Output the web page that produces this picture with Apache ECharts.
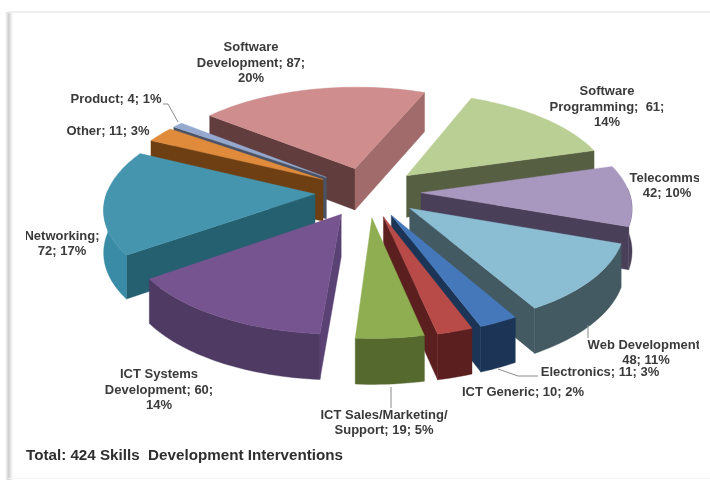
<!DOCTYPE html>
<html>
<head>
<meta charset="utf-8">
<title>Skills Development Interventions</title>
<style>
  html, body { margin: 0; padding: 0; background: #ffffff; }
  #chart { width: 710px; height: 480px; }
</style>
<script src="https://cdn.jsdelivr.net/npm/echarts@6/dist/echarts.min.js"></script>
</head>
<body>
<div id="chart"></div>
<script>
// Intervention counts by skill area, clockwise from the top of the pie.
const categories = [
  'Software Development', 'Software Programming', 'Telecomms', 'Web Development',
  'Electronics', 'ICT Generic', 'ICT Sales/Marketing/Support', 'ICT Systems Development',
  'Networking', 'Other', 'Product'
];
const counts = [87, 61, 42, 48, 11, 10, 19, 60, 72, 11, 4];
const shares = [20, 14, 10, 11, 3, 2, 5, 14, 17, 3, 1];
const totalCaption = 'Total: 424 Skills  Development Interventions';

// Face colours for each slice: top, counter-clockwise wall, clockwise wall, rim.
const topColors = ['#cf8d8e', '#bacf94', '#a898c0', '#8bbdd3', '#4478ba', '#b84b48', '#8fae52', '#76548f', '#4595ae', '#e08b3b', '#95a9cf'];
const startWallColors = ['#613d3d', '#565f42', '#4a3f58', '#435a63', '#1c3557', '#5a1f1e', '#55692f', '#5b4274', '#24606f', '#6e3f12', '#4a5366'];
const endWallColors = ['#a16b6b', '#565f42', '#4a3f58', '#435a63', '#1c3557', '#5a1f1e', '#55692f', '#4f3a63', '#24606f', '#6e3f12', '#4a5366'];
const rimColors = ['#a16b6b', '#565f42', '#4a3f58', '#435a63', '#1c3557', '#5a1f1e', '#55692f', '#4f3a63', '#3a8ba5', '#6e3f12', '#4a5366'];

// Projection of the tilted, exploded pie onto the page.
const view = {
  cx: 368, cy: 192, radius: 208, squash: 0.47, perspective: 0.13,
  explode: 53, depth: 42, startDeg: -51.5
};

const rad = d => d * Math.PI / 180;
const sum = counts.reduce((a, b) => a + b, 0);

// Ground-plane point (x right, y toward the viewer) to page pixels.
function project(x, y, drop) {
  const s = 1 / (1 - view.perspective * y / view.radius);
  return [view.cx + x * s, view.cy + view.squash * y * s + (drop || 0) * Math.sqrt(s)];
}

function renderSlice(params, api) {
  const i = params.dataIndex;
  const before = counts.slice(0, i).reduce((a, b) => a + b, 0);
  const a1 = view.startDeg + before / sum * 360;
  const a2 = a1 + api.value(1) / sum * 360;
  const mid = (a1 + a2) / 2;
  const ox = view.explode * Math.sin(rad(mid));
  const oy = -view.explode * Math.cos(rad(mid));
  const rim = (deg, drop) => project(
    ox + view.radius * Math.sin(rad(deg)),
    oy - view.radius * Math.cos(rad(deg)),
    drop
  );
  const apex = drop => project(ox, oy, drop);

  const arcPts = [];
  const steps = Math.max(4, Math.ceil((a2 - a1) / 1.5));
  for (let k = 0; k <= steps; k++) arcPts.push(a1 + (a2 - a1) * k / steps);

  const children = [];
  const order = -Math.cos(rad(mid)) * 100;
  const face = (points, fill) => children.push({
    type: 'polygon',
    z2: order,
    shape: { points },
    style: { fill, stroke: fill, lineWidth: 0.4 }
  });

  // Radial walls show only when they turn toward the viewer.
  if (Math.sin(rad(a1)) < 0) {
    face([apex(0), rim(a1, 0), rim(a1, view.depth), apex(view.depth)], startWallColors[i]);
  }
  if (Math.sin(rad(a2)) > 0) {
    face([apex(0), rim(a2, 0), rim(a2, view.depth), apex(view.depth)], endWallColors[i]);
  }
  // Outer wall: the part of the arc on the near half of the circle.
  const near = arcPts.filter(d => Math.cos(rad(d)) < 0.05);
  if (near.length > 1) {
    face(near.map(d => rim(d, 0)).concat(near.slice().reverse().map(d => rim(d, view.depth))), rimColors[i]);
  }
  // Top face.
  face([apex(0)].concat(arcPts.map(d => rim(d, 0))), topColors[i]);

  return { type: 'group', children };
}

// Label text follows the same count and share arrays.
const labelBreaks = [
  `Software\nDevelopment; ${counts[0]};\n${shares[0]}%`,
  `Software\nProgramming;  ${counts[1]};\n${shares[1]}%`,
  `Telecomms;\n${counts[2]}; ${shares[2]}%`,
  `Web Development;\n${counts[3]}; ${shares[3]}%`,
  `Electronics; ${counts[4]}; ${shares[4]}%`,
  `ICT Generic; ${counts[5]}; ${shares[5]}%`,
  `ICT Sales/Marketing/\nSupport; ${counts[6]}; ${shares[6]}%`,
  `ICT Systems\nDevelopment; ${counts[7]};\n${shares[7]}%`,
  `Networking;\n${counts[8]}; ${shares[8]}%`,
  `Other; ${counts[9]}; ${shares[9]}%`,
  `Product; ${counts[10]}; ${shares[10]}%`
];
// Anchor of each label block (centre x, centre y).
const labelSpots = [
  [251, 63], [607, 107], [667, 186], [646, 353], [600, 372], [523, 392],
  [384, 423], [159, 390], [62, 244], [108, 131], [116, 99]
];
const leaderLines = [
  [[163, 104], [168, 104], [178, 122]],
  [[588, 325], [588, 338]],
  [[538, 376], [518, 376], [498, 369]],
  [[391, 387], [391, 408]]
];

const labelFont = 'bold 13px "Liberation Sans", Arial, sans-serif';
const graphics = [];
labelBreaks.forEach((text, i) => graphics.push({
  type: 'text', x: labelSpots[i][0], y: labelSpots[i][1], z: 10,
  style: { text, font: labelFont, fill: '#3a3a3a', align: 'center', verticalAlign: 'middle', lineHeight: 15.5 }
}));
leaderLines.forEach(points => graphics.push({
  type: 'polyline', z: 9, shape: { points },
  style: { stroke: '#8c8c8c', lineWidth: 1, fill: 'none' }
}));
graphics.push({
  type: 'text', x: 26, y: 456, z: 10,
  style: { text: totalCaption, font: 'bold 15.2px "Liberation Sans", Arial, sans-serif', fill: '#2e2e2e', verticalAlign: 'middle' }
});
// Page edges that trim the outermost labels, and the frame around the plot.
const edgeFade = {
  type: 'linear', x: 0, y: 0, x2: 1, y2: 0,
  colorStops: [
    { offset: 0, color: '#ffffff' },
    { offset: 0.45, color: '#cfcfcf' },
    { offset: 1, color: '#ffffff' }
  ]
};
graphics.push(
  { type: 'rect', z: 20, shape: { x: 0, y: 0, width: 26, height: 480 }, style: { fill: '#ffffff' } },
  { type: 'rect', z: 20, shape: { x: 699, y: 0, width: 11, height: 480 }, style: { fill: '#ffffff' } },
  { type: 'rect', z: 21, shape: { x: 5, y: 12, width: 8, height: 468 }, style: { fill: edgeFade } },
  { type: 'rect', z: 21, shape: { x: 8, y: 11, width: 702, height: 2 }, style: { fill: '#eeeeee' } },
  { type: 'rect', z: 21, shape: { x: 8, y: 478, width: 702, height: 1 }, style: { fill: '#f3f3f3' } }
);

const chart = echarts.init(document.getElementById('chart'), null, { renderer: 'canvas' });
chart.setOption({
  animation: false,
  backgroundColor: '#ffffff',
  xAxis: { show: false, type: 'value', min: 0, max: 1 },
  yAxis: { show: false, type: 'value', min: 0, max: 1 },
  grid: { left: 0, right: 0, top: 0, bottom: 0 },
  series: [{
    type: 'custom',
    coordinateSystem: 'none',
    renderItem: renderSlice,
    silent: true,
    clip: false,
    data: categories.map((name, i) => ({ name, value: [i, counts[i]] }))
  }],
  graphic: graphics
});
</script>
</body>
</html>
